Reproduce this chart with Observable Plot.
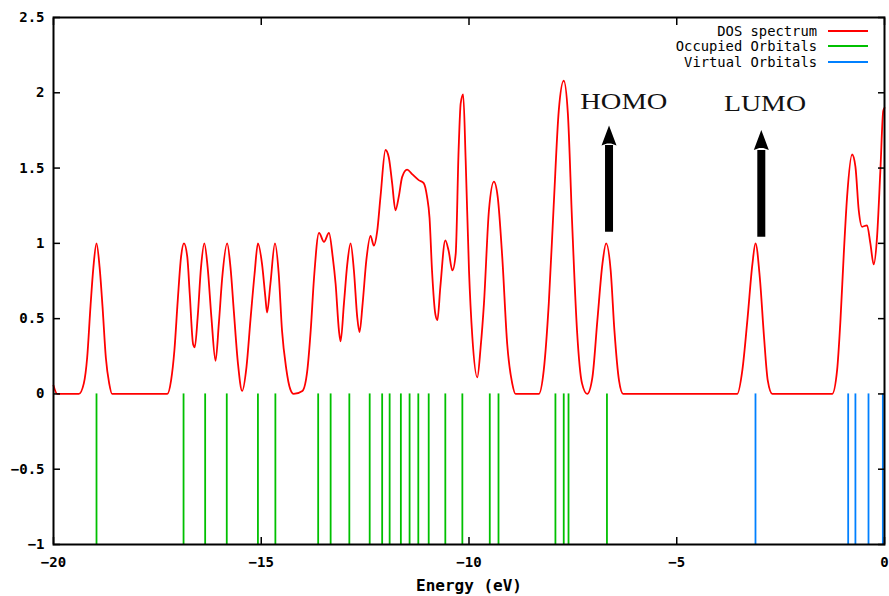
<!DOCTYPE html>
<html>
<head>
<meta charset="utf-8">
<script src="https://cdn.jsdelivr.net/npm/d3@7"></script>
<script src="https://cdn.jsdelivr.net/npm/@observablehq/plot@0.6"></script>
<style>
  body { margin: 0; background: #fff; }
  #wrap { position: relative; width: 889px; height: 596px; overflow: hidden; background: #fff; }
  #legend { position: absolute; top: 23px; right: 21px; font-family: "DejaVu Sans Mono", monospace; font-size: 13.8px; color: #000; }
  #legend .row { display: flex; align-items: center; justify-content: flex-end; height: 15.5px; }
  #legend .sw { width: 40px; height: 2px; margin-left: 11px; }
</style>
</head>
<body>
<div id="wrap"><div id="legend"></div></div>
<script>
// DOS spectrum (energy in eV, density)
const dosEnergy = [-20.00,-19.91,-19.39,-19.27,-19.19,-19.11,-19.04,-18.965,-18.89,-18.82,-18.74,-18.66,-18.59,
  -17.26,-17.17,-17.09,-17.01,-16.93,-16.86,-16.78,-16.72,-16.64,-16.60,-16.53,-16.45,-16.37,-16.29,-16.20,-16.10,-16.02,-15.94,-15.82,-15.74,-15.66,-15.56,-15.46,-15.355,-15.26,-15.16,-15.08,
  -14.98,-14.90,-14.86,-14.78,-14.67,-14.58,-14.50,-14.40,-14.30,-14.22,-14.01,-13.89,-13.81,-13.73,-13.61,-13.49,-13.37,-13.28,-13.21,-13.13,-13.09,-13.01,-12.93,-12.85,-12.77,-12.69,-12.635,-12.56,-12.47,-12.37,-12.29,-12.21,-12.13,-12.01,-11.93,-11.85,-11.77,-11.69,-11.61,-11.49,-11.37,-11.21,-11.09,-11.01,-10.95,-10.89,-10.81,-10.76,-10.69,-10.57,-10.49,-10.40,-10.32,-10.25,
  -10.20,-10.14,-10.08,-10.00,-9.92,-9.80,-9.72,-9.64,-9.52,-9.40,-9.31,-9.20,-9.08,-8.96,-8.88,-8.32,-8.20,-8.08,-7.96,-7.84,-7.72,-7.62,-7.52,-7.40,-7.28,-7.155,-7.03,-6.91,-6.79,-6.70,-6.59,-6.50,-6.39,-6.29,
  -3.545,-3.42,-3.30,-3.18,-3.105,-3.00,-2.90,-2.81,-2.70,-1.26,-1.14,-1.06,-0.98,-0.90,-0.78,-0.70,-0.62,-0.54,-0.42,-0.34,-0.26,-0.18,-0.10,-0.03,0.00];
const dosValue = [0.056,0,0,0.07,0.24,0.58,0.84,1.0,0.84,0.58,0.24,0.07,0,
  0,0.09,0.29,0.62,0.91,1.0,0.91,0.66,0.33,0.31,0.51,0.84,1.0,0.84,0.51,0.22,0.47,0.77,1.0,0.84,0.55,0.2,0.02,0.18,0.49,0.80,1.0,
  0.86,0.64,0.54,0.73,1.0,0.80,0.42,0.17,0.03,0,0.02,0.16,0.42,0.77,1.07,1.01,1.07,0.91,0.73,0.42,0.35,0.60,0.86,1.0,0.82,0.51,0.41,0.60,0.89,1.05,0.985,1.08,1.31,1.62,1.57,1.40,1.22,1.31,1.44,1.49,1.46,1.42,1.40,1.31,1.17,0.82,0.53,0.49,0.71,1.02,0.95,0.82,0.93,1.62,
  1.93,1.99,1.55,0.82,0.38,0.11,0.31,0.60,1.22,1.41,1.31,0.91,0.33,0.07,0,0,0.16,0.60,1.26,1.88,2.08,1.86,1.15,0.42,0.07,0,0.11,0.49,0.86,1.0,0.82,0.42,0.09,0,
  0,0.16,0.49,0.86,1.0,0.77,0.38,0.09,0,0,0.16,0.49,0.93,1.31,1.59,1.51,1.22,1.11,1.12,1.0,0.86,1.04,1.48,1.88,1.90];

// Orbital energies (eV)
const occupiedOrbitals = [-18.965,-16.87,-16.35,-15.83,-15.08,-14.66,-13.63,-13.33,-12.88,-12.39,-12.09,-11.91,-11.64,-11.43,-11.22,-10.97,-10.57,-10.16,-9.50,-9.29,-7.92,-7.72,-7.605,-6.68];
const virtualOrbitals = [-3.105,-0.874,-0.70,-0.385,-0.04];
const orbitalBottom = -1;
const orbitalTop = 0;

// Annotations
const annotLabels = ["HOMO", "LUMO"];
const annotLabelX = [-6.274, -2.876];
const annotLabelY = [1.943, 1.930];
const arrowX = [-6.63, -2.965];
const arrowBottom = [1.073, 1.040];
const arrowHeadBase = [1.650, 1.616];
const arrowTip = [1.782, 1.753];

// Axes
const xTicks = [-20, -15, -10, -5, 0];
const yTicks = [-1, -0.5, 0, 0.5, 1, 1.5, 2, 2.5];
const xLabel = "Energy (eV)";

// Legend
const seriesNames = ["DOS spectrum", "Occupied Orbitals", "Virtual Orbitals"];
const seriesColors = ["#ff0000", "#00c000", "#0080ff"];

const dos = dosEnergy.map((e, i) => ({e, v: dosValue[i]}));
const annots = annotLabels.map((t, i) => ({t, x: annotLabelX[i], y: annotLabelY[i]}));
const arrows = arrowX.map((x, i) => ({x, y1: arrowBottom[i], y2: arrowHeadBase[i], tip: arrowTip[i]}));

const fmt = d => (d < 0 ? "\u2212" : "") + String(Math.abs(d));

const arrowHead = {
  draw(context, size) {
    const s = Math.sqrt(size / Math.PI);
    context.moveTo(0, 0);
    context.lineTo(0.75 * s, 2 * s);
    context.lineTo(0.2 * s, 1.8 * s);
    context.lineTo(-0.2 * s, 1.8 * s);
    context.lineTo(-0.75 * s, 2 * s);
    context.closePath();
  }
};

const chart = Plot.plot({
  width: 889,
  height: 596,
  marginLeft: 53,
  marginRight: 5,
  marginTop: 17,
  marginBottom: 52,
  style: {fontFamily: "DejaVu Sans Mono", fontSize: "14px", fontWeight: "bold", background: "transparent", color: "#000"},
  x: {domain: [-20, 0]},
  y: {domain: [-1, 2.5]},
  marks: [
    Plot.ruleX(occupiedOrbitals, {x: d => d, y1: orbitalBottom, y2: orbitalTop, stroke: seriesColors[1], strokeWidth: 1.8}),
    Plot.ruleX(virtualOrbitals, {x: d => d, y1: orbitalBottom, y2: orbitalTop, stroke: seriesColors[2], strokeWidth: 1.8}),
    Plot.line(dos, {x: "e", y: "v", stroke: seriesColors[0], strokeWidth: 1.8, curve: "monotone-x"}),
    Plot.ruleX(arrows, {x: "x", y1: "y1", y2: "y2", stroke: "#000", strokeWidth: 8}),
    Plot.dot(arrows, {x: "x", y: "tip", symbol: arrowHead, r: 10, fill: "#000", stroke: "none"}),
    Plot.text(annots, {x: "x", y: "y", text: "t", fontFamily: "Liberation Serif", fontSize: 24, fontWeight: "normal", fill: "#111"}),
    Plot.frame({stroke: "#000", strokeWidth: 2}),
    Plot.axisX({anchor: "bottom", ticks: xTicks, tickFormat: fmt, tickSize: -7, tickPadding: 20, label: null, strokeWidth: 1.5}),
    Plot.axisX({anchor: "top", ticks: xTicks, tickSize: -7, tickFormat: () => "", label: null, strokeWidth: 1.5}),
    Plot.axisY({anchor: "left", ticks: yTicks, tickFormat: fmt, tickSize: -7, tickPadding: 16, label: null, strokeWidth: 1.5}),
    Plot.axisY({anchor: "right", ticks: yTicks, tickSize: -7, tickFormat: () => "", label: null, strokeWidth: 1.5}),
    Plot.text([xLabel], {frameAnchor: "bottom", lineAnchor: "top", dy: 35, text: d => d, fontSize: 16, fontWeight: "bold"})
  ]
});

// stretch the serif annotation labels to the wide look of the original
const annotWidths = {HOMO: 87, LUMO: 82};
d3.select(chart).selectAll("text").each(function() {
  const t = this.textContent;
  if (annotWidths[t]) {
    this.setAttribute("textLength", annotWidths[t]);
    this.setAttribute("lengthAdjust", "spacingAndGlyphs");
  }
});

document.getElementById("wrap").prepend(chart);

const legend = d3.select("#legend");
seriesNames.forEach((name, i) => {
  const row = legend.append("div").attr("class", "row");
  row.append("span").text(name);
  row.append("div").attr("class", "sw").style("background", seriesColors[i]);
});
</script>
</body>
</html>
